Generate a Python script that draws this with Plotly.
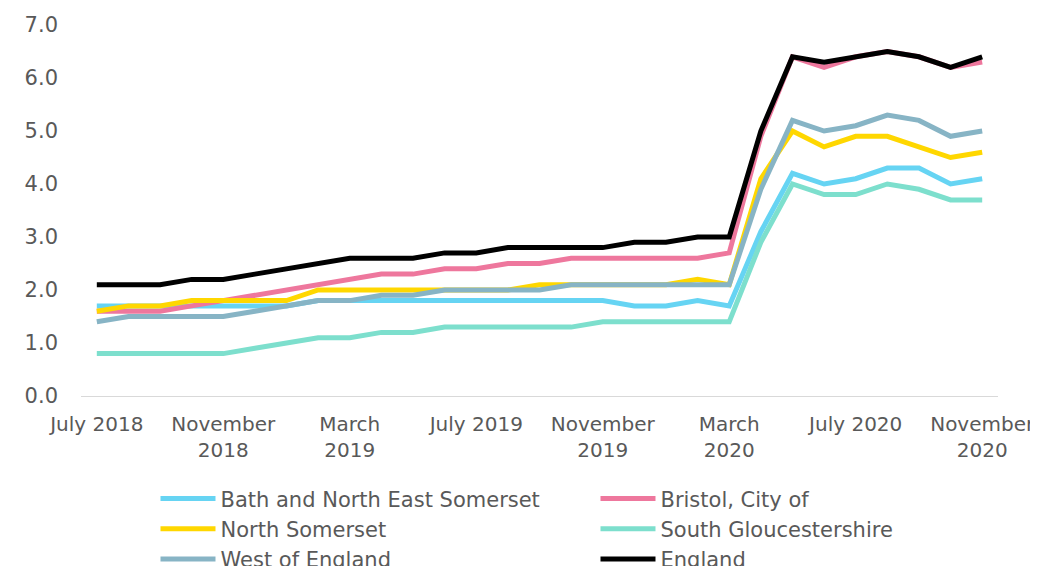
import plotly.graph_objects as go

months = [
    "Jul 2018", "Aug 2018", "Sep 2018", "Oct 2018", "Nov 2018", "Dec 2018",
    "Jan 2019", "Feb 2019", "Mar 2019", "Apr 2019", "May 2019", "Jun 2019",
    "Jul 2019", "Aug 2019", "Sep 2019", "Oct 2019", "Nov 2019", "Dec 2019",
    "Jan 2020", "Feb 2020", "Mar 2020", "Apr 2020", "May 2020", "Jun 2020",
    "Jul 2020", "Aug 2020", "Sep 2020", "Oct 2020", "Nov 2020",
]

# tick labels shown every 4 months
tick_months = ["Jul 2018", "Nov 2018", "Mar 2019", "Jul 2019", "Nov 2019",
               "Mar 2020", "Jul 2020", "Nov 2020"]
tick_labels = ["July 2018", "November<br>2018", "March<br>2019", "July 2019",
               "November<br>2019", "March<br>2020", "July 2020", "November<br>2020"]

bath_nes = [1.7, 1.7, 1.7, 1.7, 1.7, 1.7, 1.7, 1.8, 1.8, 1.8, 1.8, 1.8,
            1.8, 1.8, 1.8, 1.8, 1.8, 1.7, 1.7, 1.8, 1.7, 3.1, 4.2, 4.0,
            4.1, 4.3, 4.3, 4.0, 4.1]
bristol = [1.6, 1.6, 1.6, 1.7, 1.8, 1.9, 2.0, 2.1, 2.2, 2.3, 2.3, 2.4,
           2.4, 2.5, 2.5, 2.6, 2.6, 2.6, 2.6, 2.6, 2.7, 4.9, 6.4, 6.2,
           6.4, 6.5, 6.4, 6.2, 6.3]
north_somerset = [1.6, 1.7, 1.7, 1.8, 1.8, 1.8, 1.8, 2.0, 2.0, 2.0, 2.0, 2.0,
                  2.0, 2.0, 2.1, 2.1, 2.1, 2.1, 2.1, 2.2, 2.1, 4.1, 5.0, 4.7,
                  4.9, 4.9, 4.7, 4.5, 4.6]
south_glos = [0.8, 0.8, 0.8, 0.8, 0.8, 0.9, 1.0, 1.1, 1.1, 1.2, 1.2, 1.3,
              1.3, 1.3, 1.3, 1.3, 1.4, 1.4, 1.4, 1.4, 1.4, 2.9, 4.0, 3.8,
              3.8, 4.0, 3.9, 3.7, 3.7]
west_of_england = [1.4, 1.5, 1.5, 1.5, 1.5, 1.6, 1.7, 1.8, 1.8, 1.9, 1.9, 2.0,
                   2.0, 2.0, 2.0, 2.1, 2.1, 2.1, 2.1, 2.1, 2.1, 3.9, 5.2, 5.0,
                   5.1, 5.3, 5.2, 4.9, 5.0]
england = [2.1, 2.1, 2.1, 2.2, 2.2, 2.3, 2.4, 2.5, 2.6, 2.6, 2.6, 2.7,
           2.7, 2.8, 2.8, 2.8, 2.8, 2.9, 2.9, 3.0, 3.0, 5.0, 6.4, 6.3,
           6.4, 6.5, 6.4, 6.2, 6.4]

series = [
    ("Bath and North East Somerset", bath_nes, "#66d4f3"),
    ("Bristol, City of", bristol, "#ee779d"),
    ("North Somerset", north_somerset, "#ffd700"),
    ("South Gloucestershire", south_glos, "#7ddfcd"),
    ("West of England", west_of_england, "#87b4c5"),
    ("England", england, "#000000"),
]

font_family = "DejaVu Sans, Verdana, sans-serif"
text_grey = "#595959"

fig = go.Figure()
for name, vals, colour in series:
    fig.add_trace(go.Scatter(
        x=months, y=vals, name=name, mode="lines",
        line=dict(color=colour, width=5),
    ))

# page body adds an 8px offset, so the figure is sized to fit inside the window
fig.update_layout(
    width=1030, height=558,
    margin=dict(l=73, r=40, t=17, b=170, autoexpand=False),
    paper_bgcolor="white", plot_bgcolor="white",
    font=dict(family=font_family, size=21, color=text_grey),
    showlegend=True,
    legend=dict(
        orientation="h", xref="container", yref="container",
        x=0.1432, y=0.1572, xanchor="left", yanchor="top",
        entrywidth=370, itemwidth=55, tracegroupgap=0,
        font=dict(size=21, color=text_grey),
        bgcolor="rgba(0,0,0,0)",
    ),
)
fig.update_xaxes(
    type="category", categoryorder="array", categoryarray=months,
    range=[-0.5, len(months) - 0.5],
    tickmode="array", tickvals=tick_months, ticktext=tick_labels,
    tickfont=dict(size=20),
    showgrid=False, showline=True, linecolor="#d9d9d9", linewidth=1,
    ticks="", zeroline=False, automargin=False, ticklabelstandoff=10,
)
fig.update_yaxes(
    range=[0, 7], dtick=1, tickformat=".1f",
    showgrid=False, showline=False, zeroline=False,
    ticks="", ticklabelstandoff=22, automargin=False,
)

fig.write_html("out.html")
